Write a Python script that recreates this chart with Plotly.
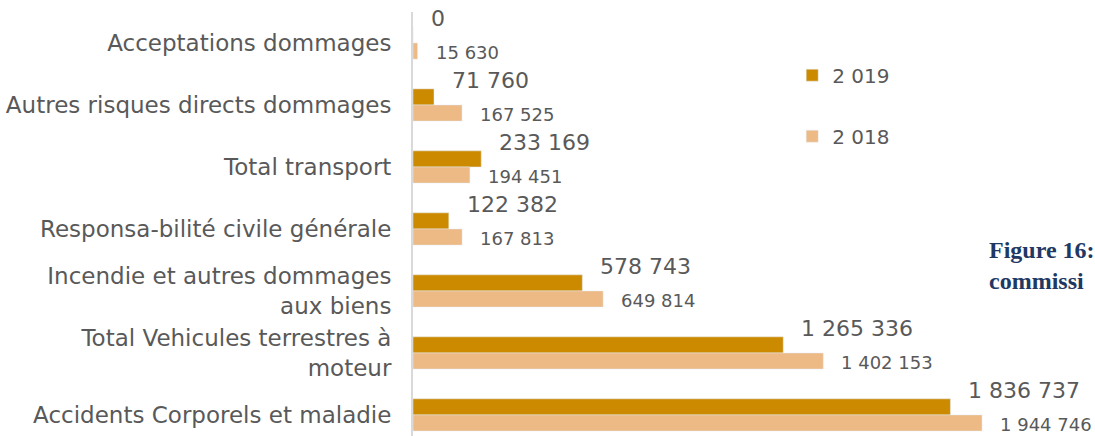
import plotly.graph_objects as go

categories = [
    "Acceptations dommages",
    "Autres risques directs dommages",
    "Total transport",
    "Responsa-bilité civile générale",
    "Incendie et autres dommages<br>aux biens",
    "Total Vehicules terrestres à<br>moteur",
    "Accidents Corporels et maladie",
]
values_2019 = [0, 71760, 233169, 122382, 578743, 1265336, 1836737]
values_2018 = [15630, 167525, 194451, 167813, 649814, 1402153, 1944746]
series_names = ["2 019", "2 018"]
caption_lines = ["Figure 16:", "commissi"]

C2019 = "#CC8A00"
C2018 = "#EDB984"
TXT = "#595959"
FONT = "DejaVu Sans"

def fmt(v):
    return f"{v:,}".replace(",", " ")

fig = go.Figure()
fig.add_trace(go.Bar(y=categories, x=values_2019, name=series_names[0], orientation="h",
                     marker=dict(color=C2019), legendgroup="a"))
fig.add_trace(go.Bar(y=categories, x=values_2018, name=series_names[1], orientation="h",
                     marker=dict(color=C2018), legendgroup="b"))

annotations = []
for c, v in zip(categories, values_2019):
    annotations.append(dict(x=v, y=c, xref="x", yref="y", text=fmt(v), showarrow=False,
                            xanchor="left", yanchor="middle", xshift=16, yshift=24,
                            font=dict(family=FONT, size=22, color=TXT)))
for c, v in zip(categories, values_2018):
    annotations.append(dict(x=v, y=c, xref="x", yref="y", text=fmt(v), showarrow=False,
                            xanchor="left", yanchor="middle", xshift=16, yshift=-10,
                            font=dict(family=FONT, size=18, color=TXT)))
annotations.append(dict(x=0.842, y=0.403, xref="paper", yref="paper", xanchor="left", yanchor="middle",
                        align="left", showarrow=False,
                        text="<br>".join(f"<b>{t}</b>" for t in caption_lines),
                        font=dict(family="Liberation Serif", size=24, color="#1F3864")))

fig.update_layout(
    width=1095, height=436,
    margin=dict(l=413, r=0, t=12, b=0),
    paper_bgcolor="white", plot_bgcolor="white",
    barmode="group", bargap=0.48, bargroupgap=0,
    showlegend=True,
    legend=dict(x=0.556, y=0.897, xanchor="left", yanchor="top", traceorder="grouped",
                tracegroupgap=32, font=dict(family=FONT, size=20, color=TXT),
                bgcolor="rgba(0,0,0,0)"),
    annotations=annotations,
    font=dict(family=FONT, color=TXT),
)
fig.update_xaxes(range=[0, 2330800], showgrid=False, zeroline=False, showticklabels=False,
                 showline=False, fixedrange=True)
fig.update_yaxes(range=[6.34, -0.5], showgrid=False, zeroline=False, showline=True,
                 linecolor="#D9D9D9", linewidth=2, ticks="", ticklabelstandoff=15,
                 tickfont=dict(family=FONT, size=23, color=TXT))

fig.write_html("out.html", config={"displayModeBar": False},
               post_script="document.body.style.margin='0';")
